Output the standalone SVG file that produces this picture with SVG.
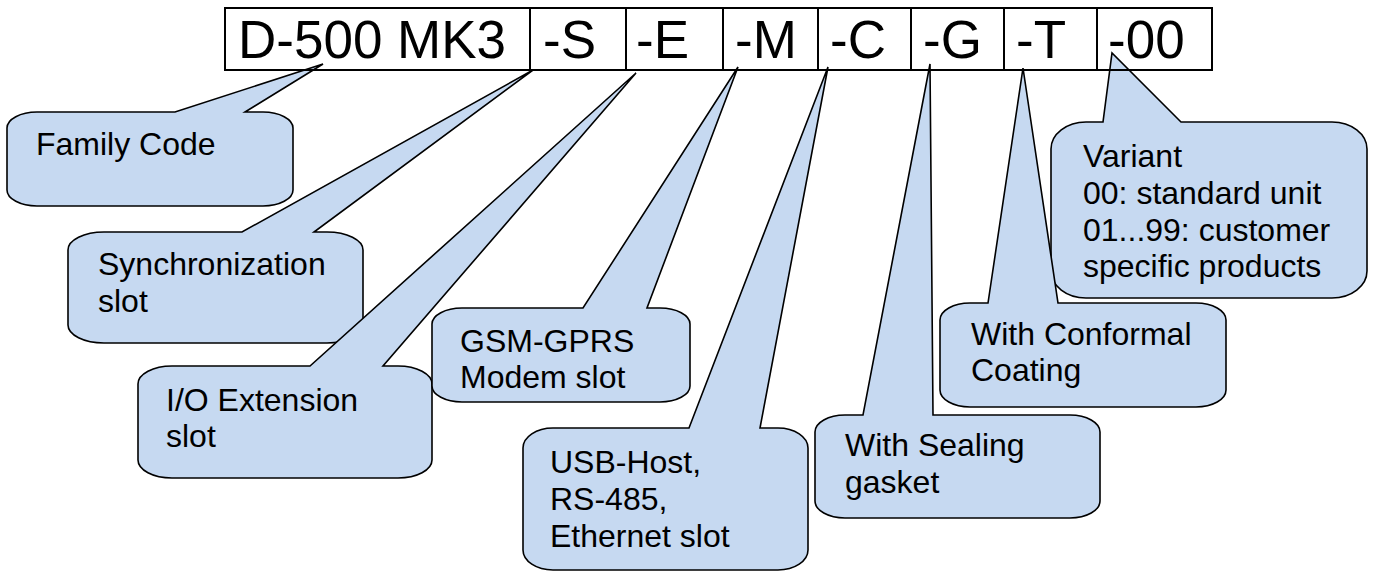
<svg xmlns="http://www.w3.org/2000/svg" width="1375" height="571" viewBox="0 0 1375 571">
<style>
.co{fill:#c6d9f1;stroke:#000;stroke-width:1.6;stroke-linejoin:miter}
.t{font-family:"Liberation Sans",Arial,sans-serif;font-size:32px;fill:#000}
.big{font-family:"Liberation Sans",Arial,sans-serif;font-size:53px;fill:#000}
.box{fill:none;stroke:#000;stroke-width:2}
</style>
<rect width="1375" height="571" fill="#fff"/>
<g id="family-code">
<path class="co" d="M37,112 L175,112 L323,64 L245,112 L263,112 A30 16 0 0 1 293,128 L293,190 A30 16 0 0 1 263,206 L37,206 A30 16 0 0 1 7,190 L7,128 A30 16 0 0 1 37,112 Z"/>
<text class="t" x="36" y="155">Family Code</text>
</g>
<g id="sync-slot">
<path class="co" d="M104,232 L242,232 L533,70 L314,232 L327,232 A36 18 0 0 1 363,250 L363,325 A36 18 0 0 1 327,343 L104,343 A36 18 0 0 1 68,325 L68,250 A36 18 0 0 1 104,232 Z"/>
<text class="t" x="98" y="275">Synchronization</text>
<text class="t" x="98" y="312">slot</text>
</g>
<g id="io-slot">
<path class="co" d="M172,366 L310,366 L636,73 L383,366 L398,366 A34 18 0 0 1 432,384 L432,460 A34 18 0 0 1 398,478 L172,478 A34 18 0 0 1 138,460 L138,384 A34 18 0 0 1 172,366 Z"/>
<text class="t" x="166" y="411">I/O Extension</text>
<text class="t" x="166" y="447">slot</text>
</g>
<g id="gsm-slot">
<path class="co" d="M462,308 L583,308 L738,67 L647,308 L660,308 A30 16 0 0 1 690,324 L690,386 A30 16 0 0 1 660,402 L462,402 A30 16 0 0 1 432,386 L432,324 A30 16 0 0 1 462,308 Z"/>
<text class="t" x="460" y="352">GSM-GPRS</text>
<text class="t" x="460" y="388">Modem slot</text>
</g>
<g id="usb-slot">
<path class="co" d="M553,428 L689,428 L828,67 L760,428 L778,428 A30 20 0 0 1 808,448 L808,550 A30 20 0 0 1 778,570 L553,570 A30 20 0 0 1 523,550 L523,448 A30 20 0 0 1 553,428 Z"/>
<text class="t" x="550" y="473">USB-Host,</text>
<text class="t" x="550" y="510">RS-485,</text>
<text class="t" x="550" y="547">Ethernet slot</text>
</g>
<g id="variant">
<path class="co" d="M1086,122 L1103,122 L1112,53 L1181,122 L1332,122 A35 27 0 0 1 1367,149 L1367,271 A35 27 0 0 1 1332,298 L1086,298 A35 27 0 0 1 1051,271 L1051,149 A35 27 0 0 1 1086,122 Z"/>
<text class="t" x="1083" y="167">Variant</text>
<text class="t" x="1083" y="204">00: standard unit</text>
<text class="t" x="1083" y="241">01...99: customer</text>
<text class="t" x="1083" y="277">specific products</text>
</g>
<g id="conformal">
<path class="co" d="M970,303 L988,303 L1023,68 L1058,303 L1196,303 A30 17 0 0 1 1226,320 L1226,390 A30 17 0 0 1 1196,407 L970,407 A30 17 0 0 1 940,390 L940,320 A30 17 0 0 1 970,303 Z"/>
<text class="t" x="971" y="345">With Conformal</text>
<text class="t" x="971" y="381">Coating</text>
</g>
<g id="sealing">
<path class="co" d="M845,415 L863,415 L930,64 L933,415 L1070,415 A30 17 0 0 1 1100,432 L1100,501 A30 17 0 0 1 1070,518 L845,518 A30 17 0 0 1 815,501 L815,432 A30 17 0 0 1 845,415 Z"/>
<text class="t" x="845" y="456">With Sealing</text>
<text class="t" x="845" y="493">gasket</text>
</g>
<g id="part-code">
<rect class="box" x="225" y="8" width="987" height="62"/>
<path class="box" d="M530,8V70 M626,8V70 M723,8V70 M818,8V70 M911,8V70 M1004,8V70 M1097,8V70"/>
<text class="big" x="238" y="57.5">D-500 MK3</text>
<text class="big" x="543" y="57.5">-S</text>
<text class="big" x="636" y="57.5">-E</text>
<text class="big" x="735" y="57.5">-M</text>
<text class="big" x="830" y="57.5">-C</text>
<text class="big" x="923" y="57.5">-G</text>
<text class="big" x="1016" y="57.5">-T</text>
<text class="big" x="1108" y="57.5">-00</text>
</g>
</svg>
